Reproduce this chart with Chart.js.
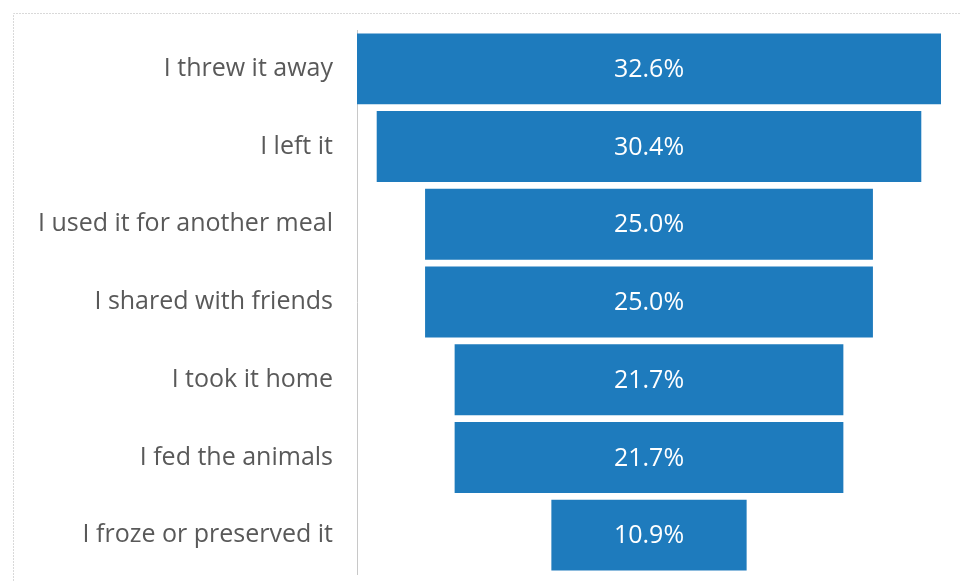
<!DOCTYPE html>
<html>
<head>
<meta charset="utf-8">
<script src="https://cdn.jsdelivr.net/npm/chart.js@4"></script>
<style>
  html, body { margin: 0; padding: 0; background: #fff; }
  #wrap { width: 960px; height: 581px; position: relative; }
</style>
</head>
<body>
<div id="wrap"><canvas id="funnel"></canvas></div>
<script>
const categories = [
  "I threw it away",
  "I left it",
  "I used it for another meal",
  "I shared with friends",
  "I took it home",
  "I fed the animals",
  "I froze or preserved it"
];
const shares = [32.6, 30.4, 25.0, 25.0, 21.7, 21.7, 10.9];

// funnel: each bar floats symmetrically around zero
const half = Math.max(...shares) / 2;
const spans = shares.map(v => [-v / 2, v / 2]);

const frame = {
  id: "frame",
  beforeDraw(chart) {
    const c = chart.ctx;
    c.save();
    c.strokeStyle = "#d9d9d9";
    c.lineWidth = 1;
    c.setLineDash([2, 1]);
    c.beginPath();
    c.moveTo(13.5, chart.height);
    c.lineTo(13.5, 13.5);
    c.lineTo(chart.width, 13.5);
    c.stroke();
    c.restore();
  }
};

const valueLabels = {
  id: "valueLabels",
  afterDatasetsDraw(chart) {
    const c = chart.ctx;
    const meta = chart.getDatasetMeta(0);
    c.save();
    c.fillStyle = "#ffffff";
    c.font = "25px 'Open Sans'";
    c.textAlign = "center";
    c.textBaseline = "middle";
    meta.data.forEach((bar, i) => {
      c.fillText(shares[i].toFixed(1) + "%", (bar.x + bar.base) / 2, bar.y + 1);
    });
    c.restore();
  }
};

new Chart(document.getElementById("funnel"), {
  type: "bar",
  data: {
    labels: categories,
    datasets: [{
      data: spans,
      backgroundColor: "#1e7bbd",
      borderWidth: 0,
      borderSkipped: false,
      barPercentage: 0.913,
      categoryPercentage: 1
    }]
  },
  options: {
    indexAxis: "y",
    responsive: true,
    maintainAspectRatio: false,
    animation: false,
    layout: { padding: { top: 30, right: 19, bottom: 7, left: 0 } },
    plugins: { legend: { display: false }, tooltip: { enabled: false } },
    scales: {
      x: {
        display: false,
        min: -half,
        max: half
      },
      y: {
        afterFit(scale) {
          scale.width = 357;
          scale.paddingTop = 0;
          scale.paddingBottom = 0;
        },
        grid: { display: false, drawTicks: false },
        border: { display: true, color: "#c8c8c8", width: 1 },
        ticks: {
          color: "#595959",
          padding: 24,
          font: { family: "'Open Sans'", size: 25 }
        }
      }
    }
  },
  plugins: [frame, valueLabels]
});
</script>
</body>
</html>
